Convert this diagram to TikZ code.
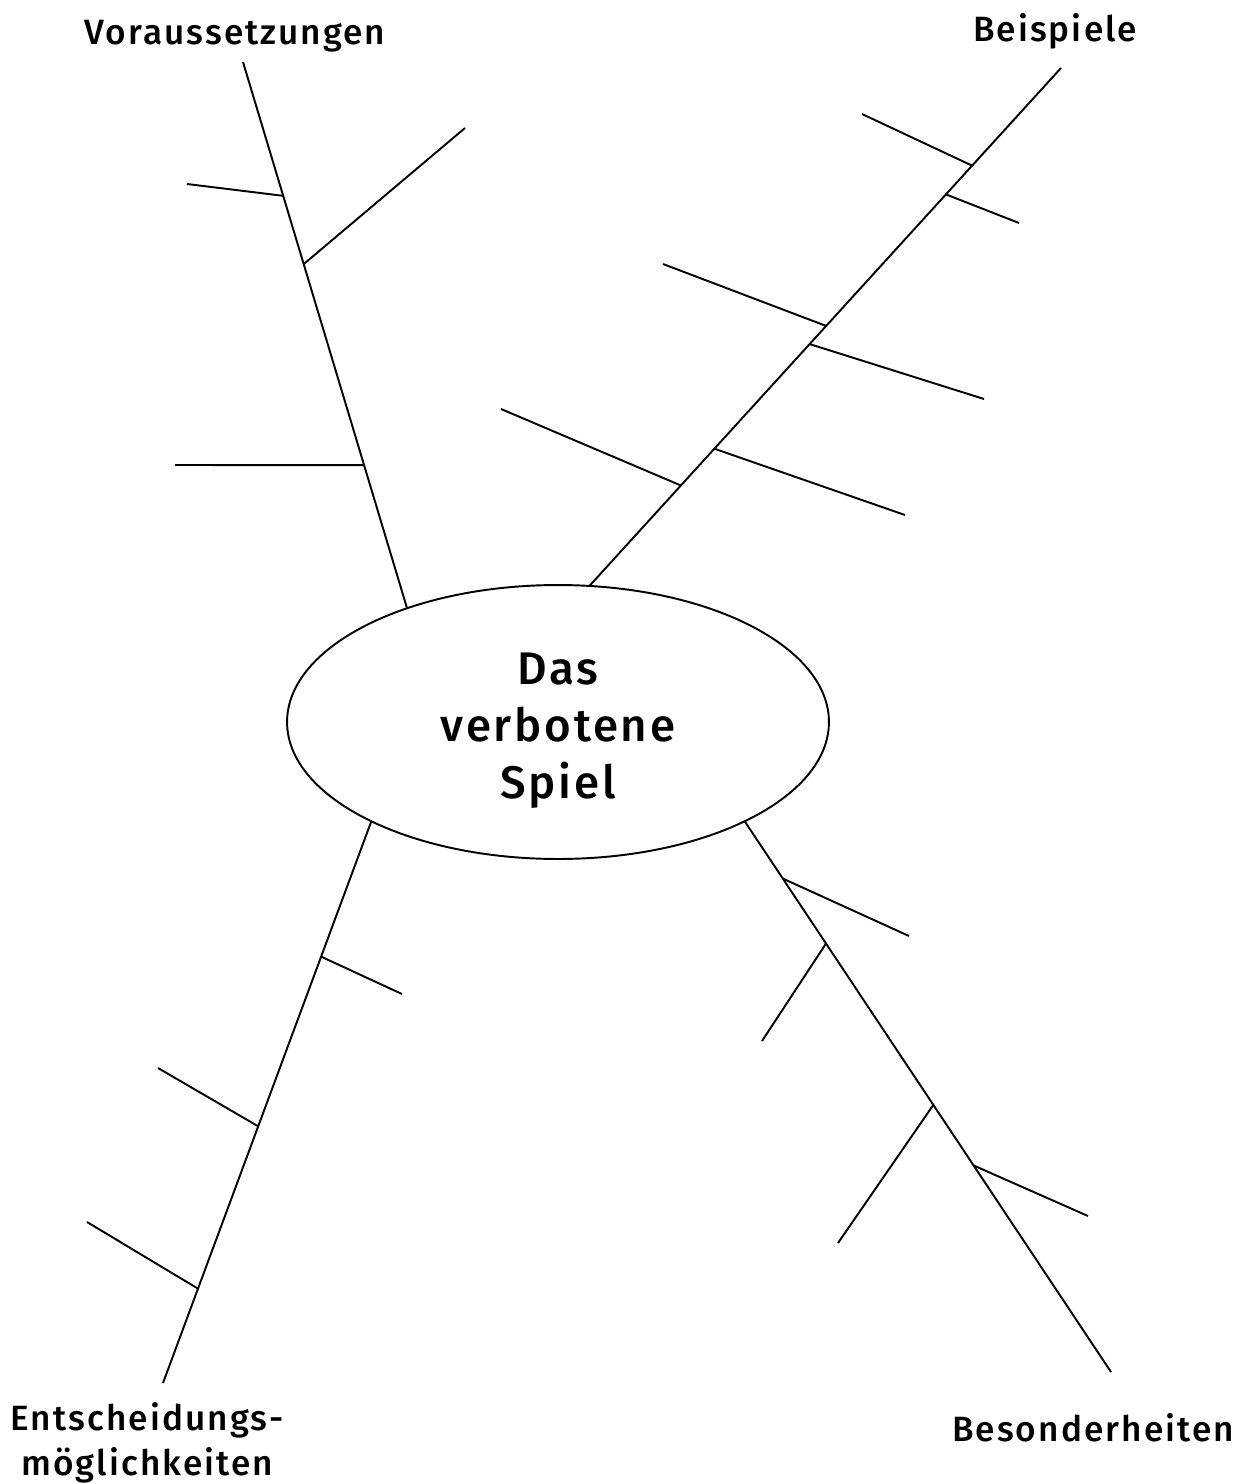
\documentclass[tikz,border=0pt]{standalone}
\usepackage{fontspec}
\setmainfont{Fira Sans}[LetterSpace=6, UprightFont=* Medium]
\usetikzlibrary{shapes.geometric}

\tikzset{
  topic/.style={ellipse, draw, minimum width=10.84cm, minimum height=5.48cm,
    inner sep=0pt, outer sep=0pt},
  topictext/.style={align=center, inner sep=0pt,
    font=\fontsize{26}{32.4}\selectfont},
  branchlabel/.style={align=center, inner sep=0pt,
    font=\fontsize{20}{25.5}\selectfont}
}

\begin{document}
\begin{tikzpicture}[x=0.02cm, y=-0.02cm, line width=1.1pt]
  \useasboundingbox (0,0) rectangle (1237,1484);

  \node[topic] (spiel) at (558,722) {};
  \node[topictext] (titel) at (558,731) {Das\\verbotene\\Spiel};

  \node[branchlabel] (vor) at (235,36) {Voraussetzungen};
  \node[branchlabel] (bei) at (1055,31) {Beispiele};
  \node[branchlabel] (ent) at (147,1443) {Entscheidungs-\\möglichkeiten};
  \node[branchlabel] (bes) at (1093,1428) {Besonderheiten};

  % ends of the main branches
  \coordinate (v0) at (243,62);
  \coordinate (b0) at (1061,68);
  \coordinate (e0) at (163,1383);
  \coordinate (s0) at (1111,1372);

  % ends of the small twigs
  \foreach \n/\x/\y in {vt1/175/465, vt2/465/128, vt3/187/184,
      bt1/501/409, bt2/905/515, bt3/663/264, bt4/984/399, bt5/862/114, bt6/1019/223,
      et1/402/994, et2/158/1068, et3/87/1222,
      st1/909/936, st2/762/1041, st3/838/1243, st4/1088/1216}
    \coordinate (\n) at (\x,\y);

  \draw (spiel.143.7) -- (v0)
    coordinate[pos=.262] (v1) coordinate[pos=.630] (v2) coordinate[pos=.755] (v3);
  \draw (spiel.77.8) -- (b0)
    coordinate[pos=.194] (b1) coordinate[pos=.265] (b2) coordinate[pos=.502] (b3)
    coordinate[pos=.467] (b4) coordinate[pos=.8115] (b5) coordinate[pos=.756] (b6);
  \draw (spiel.208.1) -- (e0)
    coordinate[pos=.241] (e1) coordinate[pos=.543] (e2) coordinate[pos=.832] (e3);
  \draw (spiel.332.2) -- (s0)
    coordinate[pos=.104] (s1) coordinate[pos=.222] (s2) coordinate[pos=.515] (s3)
    coordinate[pos=.625] (s4);

  \foreach \a/\b in {v1/vt1, v2/vt2, v3/vt3,
      b1/bt1, b2/bt2, b3/bt3, b4/bt4, b5/bt5, b6/bt6,
      e1/et1, e2/et2, e3/et3,
      s1/st1, s2/st2, s3/st3, s4/st4}
    \draw (\a) -- (\b);
\end{tikzpicture}
\end{document}
